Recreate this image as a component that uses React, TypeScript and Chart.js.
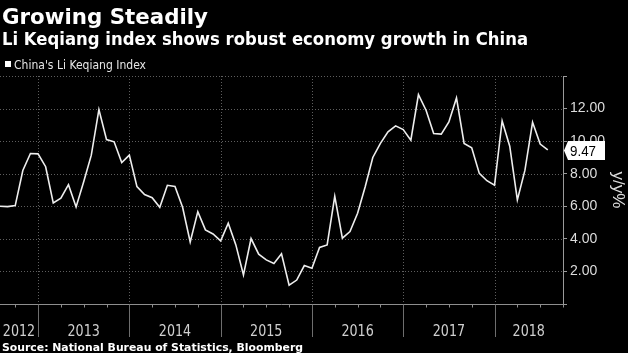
import React, { useEffect, useRef } from "react";
import { Chart, registerables } from "chart.js";

Chart.register(...registerables);

// ---- data ----
const startYear = 2012;
const startMonth = 8; // month of the first observation (Aug 2012)
const liKeqiangIndex = [
  6.0, 5.98, 6.04, 8.2, 9.24, 9.22, 8.43, 6.2, 6.5, 7.33, 5.96, 7.51,
  9.14, 11.94, 10.1, 9.96, 8.69, 9.14, 7.21, 6.72, 6.53, 5.94, 7.29, 7.22,
  5.94, 3.81, 5.67, 4.55, 4.3, 3.88, 4.96, 3.63, 1.78, 4.02, 3.06, 2.71,
  2.49, 3.08, 1.16, 1.47, 2.36, 2.2, 3.47, 3.63, 6.61, 4.04, 4.45, 5.57,
  7.2, 9.0, 9.86, 10.57, 10.94, 10.71, 10.06, 12.86, 11.9, 10.47, 10.43, 11.18,
  12.65, 9.86, 9.59, 8.02, 7.57, 7.29, 11.24, 9.69, 6.39, 8.22, 11.16, 9.82,
  9.47,
];
const yearLabels = ["2012", "2013", "2014", "2015", "2016", "2017", "2018"];
const yTickValues = [0, 2, 4, 6, 8, 10, 12, 14];
const xMonthsShown = 74; // axis runs to Oct 2018
const latestLabel = "9.47";
const titleText = "Growing Steadily";
const subtitleText = "Li Keqiang index shows robust economy growth in China";
const legendText = "China's Li Keqiang Index";
const sourceText = "Source: National Bureau of Statistics, Bloomberg";
const yAxisTitle = "y/y%";

const monthIndexOfYear = (y: number) => (y - startYear) * 12 + 1 - startMonth;

function drawText(
  ctx: CanvasRenderingContext2D,
  text: string,
  x: number,
  y: number,
  font: string,
  color: string,
  opts: { width?: number; scaleX?: number; align?: "left" | "center" } = {}
) {
  ctx.save();
  ctx.font = font;
  ctx.fillStyle = color;
  ctx.textBaseline = "alphabetic";
  ctx.textAlign = "left";
  const w = ctx.measureText(text).width;
  const sx = opts.width ? opts.width / w : opts.scaleX ?? 1;
  const x0 = opts.align === "center" ? x - (w * sx) / 2 : x;
  ctx.translate(x0, y);
  ctx.scale(sx, 1);
  ctx.fillText(text, 0, 0);
  ctx.restore();
}

const decor = {
  id: "decor",
  beforeDatasetsDraw(chart: any) {
    const { ctx, chartArea: a, scales } = chart;
    const x = scales.x;
    const y = scales.y;
    ctx.save();
    ctx.lineWidth = 1;
    // dotted horizontal grid
    ctx.strokeStyle = "#5e5e5e";
    ctx.setLineDash([1, 2]);
    for (const v of yTickValues) {
      if (v === 0) continue;
      const py = Math.round(y.getPixelForValue(v)) + 0.5;
      ctx.beginPath();
      ctx.moveTo(a.left, py);
      ctx.lineTo(a.right, py);
      ctx.stroke();
    }
    // dotted vertical year grid
    for (let i = 1; i < yearLabels.length; i++) {
      const idx = monthIndexOfYear(Number(yearLabels[i]));
      const px = Math.round(x.getPixelForValue(idx)) + 0.5;
      ctx.beginPath();
      ctx.moveTo(px, a.top);
      ctx.lineTo(px, a.bottom);
      ctx.stroke();
    }
    ctx.setLineDash([]);
    // x axis line
    ctx.strokeStyle = "#8e8e8e";
    const by = Math.round(a.bottom) + 0.5;
    ctx.beginPath();
    ctx.moveTo(a.left, by);
    ctx.lineTo(a.right, by);
    ctx.stroke();
    // quarterly ticks
    for (let i = 0; i <= xMonthsShown; i++) {
      if ((startMonth - 1 + i) % 3 !== 0) continue;
      const px = Math.round(x.getPixelForValue(i)) + 0.5;
      ctx.beginPath();
      ctx.moveTo(px, by);
      ctx.lineTo(px, by + 3);
      ctx.stroke();
    }
    // year separators below axis
    ctx.strokeStyle = "#6e6e6e";
    for (let i = 1; i < yearLabels.length; i++) {
      const idx = monthIndexOfYear(Number(yearLabels[i]));
      const px = Math.round(x.getPixelForValue(idx)) + 0.5;
      ctx.beginPath();
      ctx.moveTo(px, by);
      ctx.lineTo(px, 337);
      ctx.stroke();
    }
    ctx.restore();
  },
  afterDraw(chart: any) {
    const { ctx, chartArea: a, scales } = chart;
    const x = scales.x;
    const y = scales.y;
    // year labels centred in visible part of each year
    for (let i = 0; i < yearLabels.length; i++) {
      const yr = Number(yearLabels[i]);
      const s = Math.max(x.getPixelForValue(monthIndexOfYear(yr)), a.left);
      const e = Math.min(x.getPixelForValue(monthIndexOfYear(yr + 1)), a.right);
      drawText(ctx, yearLabels[i], (s + e) / 2, 335.5, "15.5px 'DejaVu Sans'", "#cfcfcf", {
        scaleX: 0.82,
        align: "center",
      });
    }
    // titles
    drawText(ctx, titleText, 2, 23.5, "bold 22px 'DejaVu Sans'", "#ffffff", { width: 206 });
    drawText(ctx, subtitleText, 2, 45, "bold 17.5px 'DejaVu Sans'", "#ffffff", { width: 526 });
    // legend
    ctx.save();
    ctx.fillStyle = "#ffffff";
    ctx.fillRect(5, 61, 6, 6);
    ctx.restore();
    drawText(ctx, legendText, 14, 68.5, "12px 'DejaVu Sans'", "#e6e6e6", { width: 132 });
    // source
    drawText(ctx, sourceText, 2, 350.5, "bold 11px 'DejaVu Sans'", "#ffffff", { width: 301 });
    // latest value tag
    const last = liKeqiangIndex[liKeqiangIndex.length - 1];
    const py = Math.round(y.getPixelForValue(last)) + 0.5;
    const left = a.right + 5;
    ctx.save();
    ctx.fillStyle = "#ffffff";
    ctx.beginPath();
    ctx.moveTo(a.right + 1, py);
    ctx.lineTo(left, py - 9.5);
    ctx.lineTo(605, py - 9.5);
    ctx.lineTo(605, py + 9.5);
    ctx.lineTo(left, py + 9.5);
    ctx.closePath();
    ctx.fill();
    ctx.restore();
    drawText(ctx, latestLabel, left + 2, py + 5.5, "14.5px 'Liberation Sans'", "#000000", { width: 26 });
  },
};

export default function App() {
  const ref = useRef<HTMLCanvasElement | null>(null);
  useEffect(() => {
    if (!ref.current) return;
    const chart = new Chart(ref.current, {
      type: "line",
      data: {
        datasets: [
          {
            label: legendText,
            data: liKeqiangIndex.map((v, i) => ({ x: i, y: v })),
            borderColor: "#eeeeee",
            borderWidth: 1.6,
            pointRadius: 0,
            tension: 0,
            fill: false,
          },
        ],
      },
      options: {
        responsive: false,
        animation: false,
        devicePixelRatio: 1,
        layout: { padding: { left: 0, right: 0, top: 76, bottom: 49 } },
        plugins: { legend: { display: false }, tooltip: { enabled: false } },
        scales: {
          x: { type: "linear", display: false, min: 0, max: xMonthsShown },
          y: {
            position: "right",
            min: 0,
            max: 14,
            afterFit: (s: any) => {
              s.width = 65;
            },
            afterBuildTicks: (s: any) => {
              s.ticks = yTickValues.map((v) => ({ value: v }));
            },
            ticks: {
              color: "#dcdcdc",
              padding: 3,
              font: { family: "'Liberation Sans'", size: 14 },
              callback: (v: any) => (v === 0 || v === 14 ? "" : Number(v).toFixed(2)),
            },
            grid: {
              display: true,
              drawOnChartArea: false,
              drawTicks: true,
              tickLength: 4,
              color: "#9a9a9a",
            },
            border: { display: true, color: "#9a9a9a" },
            title: {
              display: true,
              text: yAxisTitle,
              color: "#dcdcdc",
              font: { family: "'Liberation Sans'", size: 17 },
              padding: { top: 0, bottom: 0 },
            },
          },
        },
      },
      plugins: [decor],
    });
    return () => chart.destroy();
  }, []);
  return (
    <div style={{ position: "absolute", left: 0, top: 0, width: 628, height: 353, background: "#000" }}>
      <canvas ref={ref} width={628} height={353} style={{ display: "block" }} />
    </div>
  );
}
